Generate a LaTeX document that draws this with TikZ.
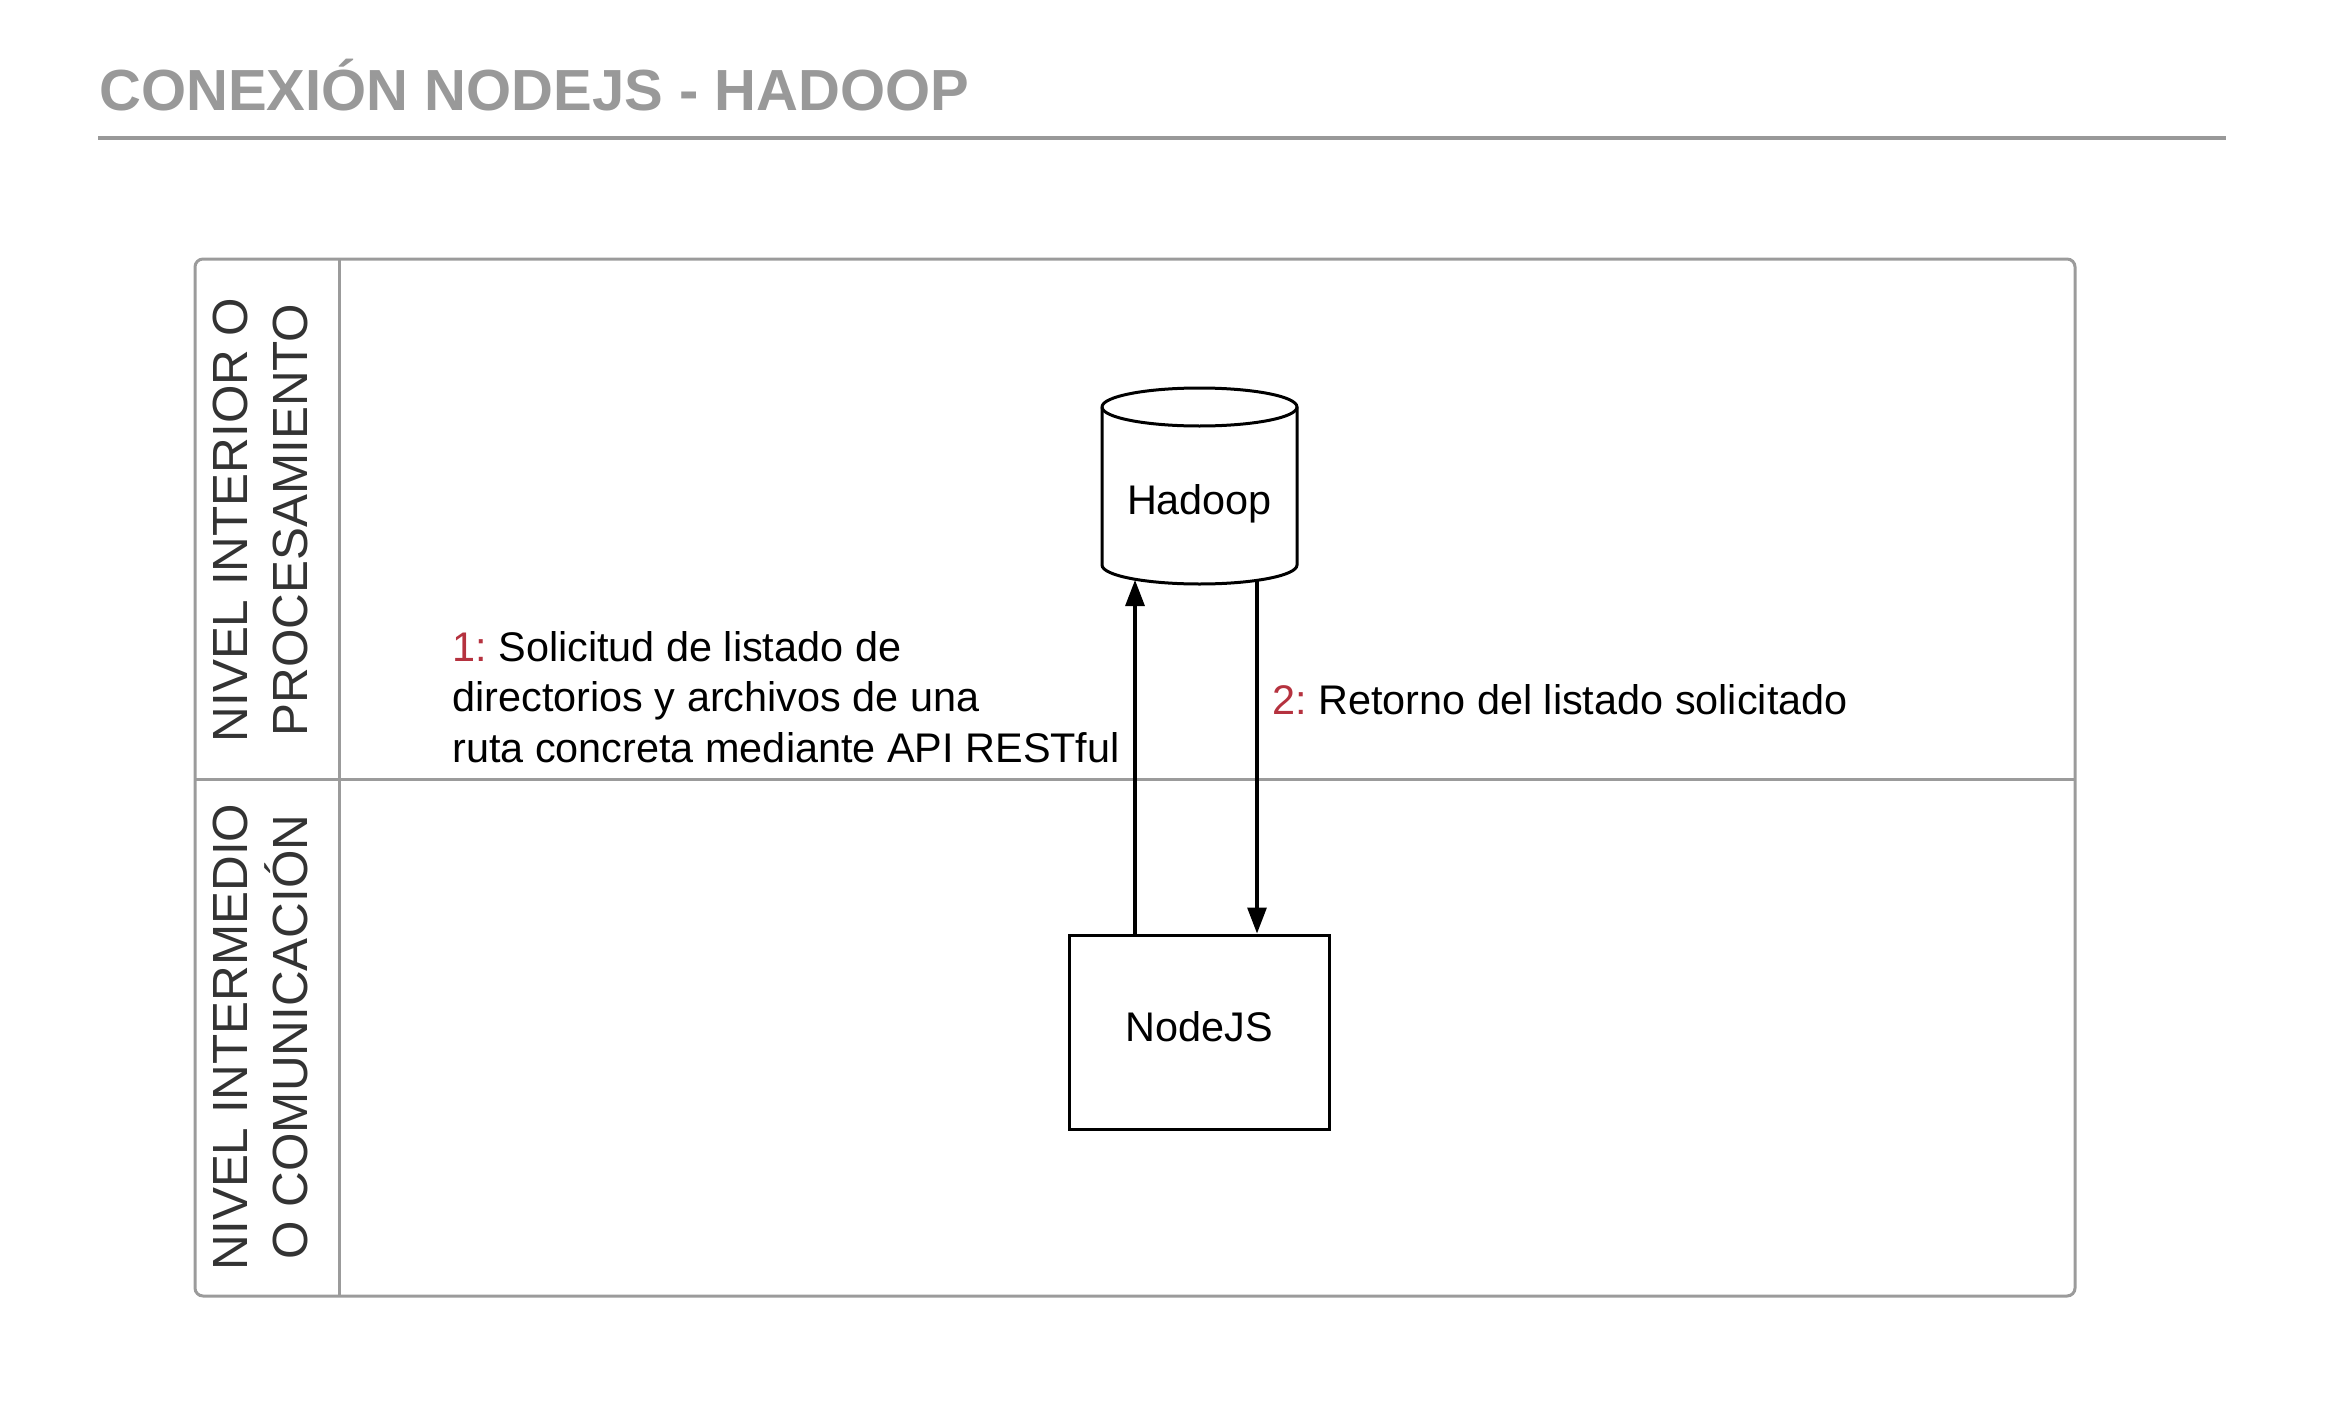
\documentclass[tikz,border=0pt]{standalone}
\usepackage{fontspec}
\setmainfont{Liberation Sans}
\usetikzlibrary{arrows.meta,calc}
\definecolor{titlegray}{HTML}{999999}
\definecolor{lanegray}{HTML}{9B9B9B}
\definecolor{lanetext}{HTML}{333333}
\definecolor{stepred}{HTML}{B5323F}
\tikzset{
  lanebox/.style={draw=lanegray, line width=1.5pt},
  lanelabel/.style={rotate=90, anchor=base, inner sep=0pt, text=lanetext, font=\fontsize{24.7}{30}\selectfont},
  blackbox/.style={draw=black, line width=1.5pt},
  bodytext/.style={font=\frenchspacing\fontsize{20.7}{25.25}\selectfont, inner sep=0pt},
  arr/.style={line width=1.6pt, -{Triangle[length=13pt,width=9.5pt]}},
}
\begin{document}
\begin{tikzpicture}[x=0.5pt,y=-0.5pt]
\useasboundingbox (0,0) rectangle (2332,1412);
% title
\node[anchor=base west, inner sep=0pt, text=titlegray, font=\fontsize{29}{34}\selectfont\bfseries] (title) at (99,111) {CONEXIÓN NODEJS - HADOOP};
\draw[titlegray, line width=2pt] (98,138) -- (2226,138);
% swimlane frame
\draw[lanebox, rounded corners=4pt] (195,259) rectangle (2075,1296);
\draw[lanebox] (339,259) -- (339,1296);
\draw[lanebox] (195,779) -- (2075,779);
% lane labels
\node[lanelabel] (laneA1) at (247,520) {NIVEL INTERIOR O};
\node[lanelabel] (laneA2) at (307,520) {PROCESAMIENTO};
\node[lanelabel] (laneB1) at (247,1037) {NIVEL INTERMEDIO};
\node[lanelabel] (laneB2) at (307,1037) {O COMUNICACIÓN};
% Hadoop cylinder (outline)
\draw[blackbox, fill=white]
  (1102,407) -- (1102,565) arc[start angle=180, end angle=0, x radius=97.5, y radius=19]
  -- (1297,407) arc[start angle=0, end angle=-180, x radius=97.5, y radius=19] -- cycle;
\draw[blackbox] (1102,407) arc[start angle=180, end angle=0, x radius=97.5, y radius=19];
\node[bodytext, anchor=base] (hadoop) at (1199.5,514) {Hadoop};
% NodeJS box
\node[blackbox, bodytext, minimum width=130pt, minimum height=97pt, text height=15pt, text depth=6pt] (nodejs) at (1199,1032) {NodeJS};
% connectors
\coordinate (hin) at (1135,580);
\coordinate (hout) at (1257,580);
\draw[arr] (nodejs.north -| hin) -- (hin);
\draw[arr] (hout) -- (nodejs.north -| hout);
% labels
\node[bodytext, anchor=base west, align=left] (lbl1) at (452,762) {\textcolor{stepred}{1:} Solicitud de listado de\\directorios y archivos de una\\ruta concreta mediante API RESTful};
\node[bodytext, anchor=base west] (lbl2) at (1272,714) {\textcolor{stepred}{2:} Retorno del listado solicitado};
\end{tikzpicture}
\end{document}
